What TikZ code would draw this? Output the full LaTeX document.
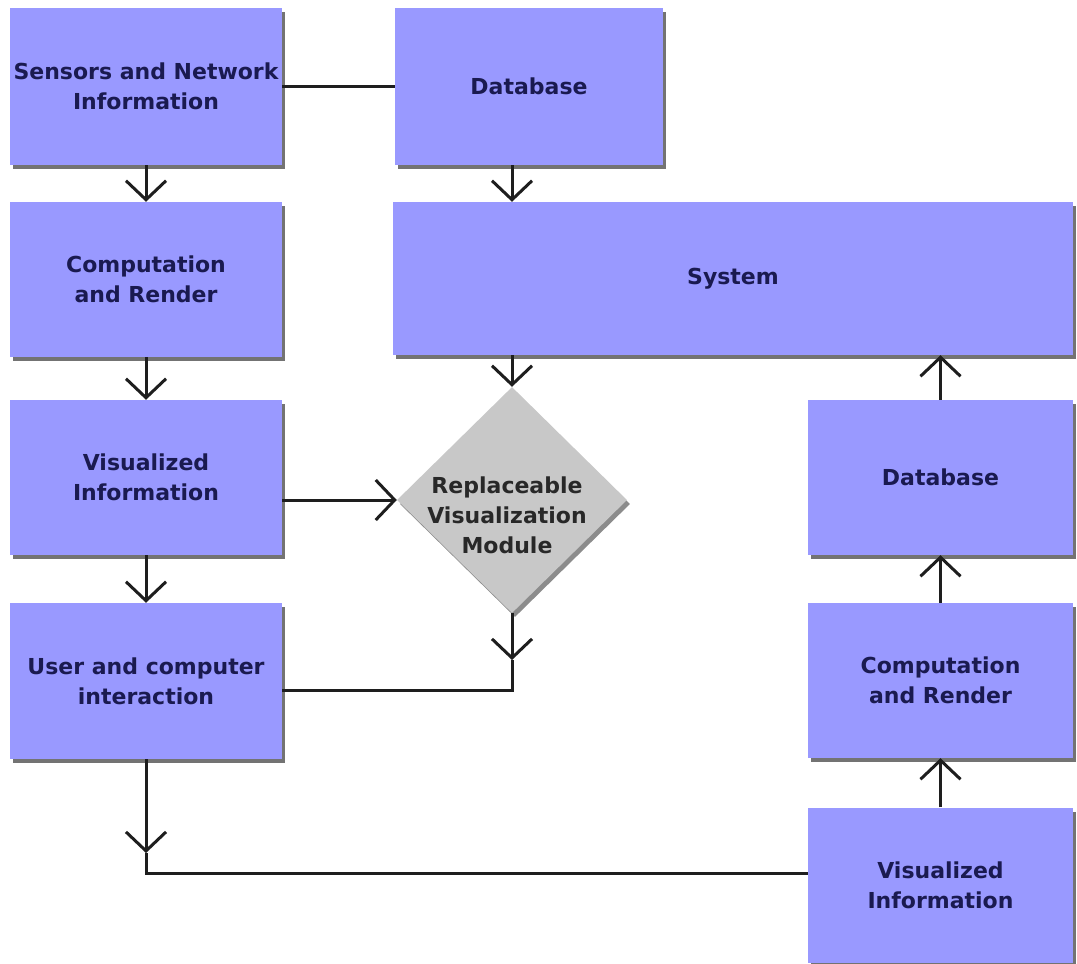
\documentclass[tikz,border=0pt]{standalone}
\usepackage{fontspec}
\setmainfont{DejaVu Sans}
\usetikzlibrary{positioning, shapes.geometric, arrows.meta, shadows, calc}

\definecolor{boxblue}{RGB}{153,153,255}
\definecolor{boxtext}{RGB}{26,26,80}
\definecolor{rvmgray}{RGB}{200,200,200}
\definecolor{rvmtextgray}{RGB}{40,40,40}
\definecolor{conngray}{RGB}{30,30,30}

\tikzset{
  box/.style={rectangle, fill=boxblue, text=boxtext, align=center, inner sep=0pt,
    font=\bfseries\fontsize{22}{30}\selectfont,
    drop shadow={shadow xshift=3pt, shadow yshift=-4pt, fill=black, opacity=0.55}},
  rvmbox/.style={diamond, fill=rvmgray, inner sep=0pt, minimum width=230pt, minimum height=226pt,
    drop shadow={shadow xshift=3pt, shadow yshift=-4pt, fill=black, opacity=0.45}},
  rvmtext/.style={align=center, text=rvmtextgray, font=\bfseries\fontsize{22}{30}\selectfont,
    xshift=-5pt, yshift=-15pt},
  conn/.style={draw=conngray, line width=3pt},
  conarrow/.style={conn, -{Straight Barb[length=19pt, width=40pt]}},
}

\begin{document}
\begin{tikzpicture}[x=1pt, y=-1pt]
\useasboundingbox (0,0) rectangle (1077,964);

% left column
\node[box, minimum width=272pt, minimum height=157pt] (sni) at (146,86.5) {Sensors and Network\\Information};
\node[box, minimum width=272pt, minimum height=155pt] (crleft) at (146,279.5) {Computation\\and Render};
\node[box, minimum width=272pt, minimum height=155pt] (vileft) at (146,477.5) {Visualized\\Information};
\node[box, minimum width=272pt, minimum height=156pt] (uci) at (146,681) {User and computer\\interaction};

% middle
\node[box, minimum width=268pt, minimum height=157pt] (dbtop) at (529,86.5) {Database};
\node[box, minimum width=680pt, minimum height=153pt] (sys) at (733,278.5) {System};
\node[rvmbox, label={[rvmtext]center:Replaceable\\Visualization\\Module}] (rvm) at (512,500) {};

% right column
\node[box, minimum width=265pt, minimum height=155pt] (dbright) at (940.5,477.5) {Database};
\node[box, minimum width=265pt, minimum height=155pt] (crright) at (940.5,680.5) {Computation\\and Render};
\node[box, minimum width=265pt, minimum height=155pt] (viright) at (940.5,885) {Visualized\\Information};

\coordinate (rvmtip) at (512,660);
\coordinate (rvmbend) at (512,690);
\coordinate (ucitip) at (146,853);
\coordinate (ucibend) at (146,873);

\draw[conn] (sni.east) -- (dbtop.west);
\draw[conarrow] (sni.south) -- (crleft.north);
\draw[conarrow] (crleft.south) -- (vileft.north);
\draw[conarrow] (vileft.south) -- (uci.north);
\draw[conarrow] (dbtop.south -| rvm) -- (sys.north -| rvm);
\draw[conarrow] (sys.south -| rvm) -- (rvm.north);
\draw[conarrow] (vileft.east |- rvm) -- (rvm.west);

\draw[conarrow] (rvm.south) -- (rvmtip);
\draw[conn] (rvmtip) -- (rvmbend) -- (uci.east |- rvmbend);

\draw[conarrow] (uci.south) -- (ucitip);
\draw[conn] (ucitip) -- (ucibend) -- (viright.west |- ucibend);

\draw[conarrow] (viright.north) -- (crright.south);
\draw[conarrow] (crright.north) -- (dbright.south);
\draw[conarrow] (dbright.north) -- (sys.south -| dbright);
\end{tikzpicture}
\end{document}
